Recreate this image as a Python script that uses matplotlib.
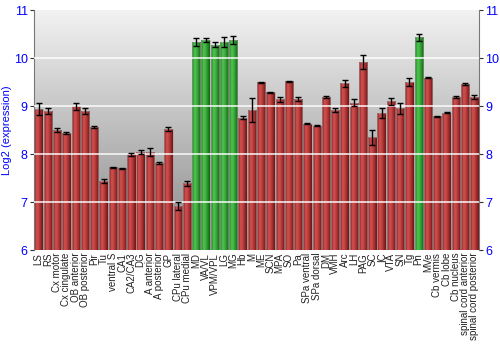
import numpy as np
import matplotlib.pyplot as plt
from matplotlib.colors import LinearSegmentedColormap

plt.rcParams['font.family'] = ['Liberation Sans', 'DejaVu Sans']

regions = ['LS', 'RS', 'Cx motor', 'Cx cingulate', 'OB anterior', 'OB posterior', 'Pir', 'Tu',
           'ventral S', 'CA1', 'CA2/CA3', 'DG', 'A anterior', 'A posterior', 'GP', 'CPu lateral',
           'CPu medial', 'MD', 'VA/VL', 'VPM/VPL', 'LG', 'MG', 'Hb', 'M', 'ME', 'SCN', 'MPA', 'SO',
           'Pa', 'SPa ventral', 'SPa dorsal', 'DM', 'VMH', 'Arc', 'LH', 'PAG', 'SC', 'IC', 'VTA',
           'SN', 'Tg', 'Pn', 'MVe', 'Cb vermis', 'Cb lobe', 'Cb nucleus', 'spinal cord anterior',
           'spinal cord posterior']
expression = [8.94, 8.89, 8.50, 8.43, 8.99, 8.90, 8.57, 7.43, 7.72, 7.70, 7.99, 8.04, 8.04, 7.81,
              8.52, 6.92, 7.39, 10.33, 10.38, 10.28, 10.33, 10.37, 8.76, 8.91, 9.49, 9.29, 9.14,
              9.52, 9.14, 8.63, 8.59, 9.18, 8.92, 9.47, 9.07, 9.92, 8.35, 8.86, 9.10, 8.95, 9.50,
              10.43, 9.59, 8.79, 8.86, 9.19, 9.46, 9.19]
error = [0.12, 0.06, 0.05, 0.02, 0.08, 0.06, 0.02, 0.04, 0.01, 0.01, 0.04, 0.04, 0.09, 0.02,
         0.05, 0.08, 0.05, 0.09, 0.04, 0.06, 0.10, 0.08, 0.03, 0.25, 0.01, 0.01, 0.05, 0.01,
         0.04, 0.01, 0.01, 0.02, 0.04, 0.08, 0.07, 0.15, 0.16, 0.10, 0.07, 0.12, 0.08, 0.08,
         0.01, 0.01, 0.01, 0.02, 0.02, 0.04]
highlighted = ['MD', 'VA/VL', 'VPM/VPL', 'LG', 'MG', 'Pn']

red_map = LinearSegmentedColormap.from_list(
    'red', [(0, '#7e1c1c'), (0.3, '#d25252'), (0.55, '#bf4040'), (1, '#701414')])
green_map = LinearSegmentedColormap.from_list(
    'green', [(0, '#1e7a1e'), (0.3, '#50c450'), (0.55, '#3cae3c'), (1, '#126412')])
bg_map = LinearSegmentedColormap.from_list('bg', ['#8a8a8a', '#bdbdbd', '#f2f2f2'])

fig = plt.figure(figsize=(5, 3.5), dpi=100)
ax = fig.add_axes([0.068, 0.2857, 0.89, 0.6857])

x = np.arange(len(regions))
ax.set_xlim(-0.5, len(regions) - 0.5)
ax.set_ylim(6, 11)

# background gradient
ax.imshow(np.linspace(0, 1, 256).reshape(-1, 1), cmap=bg_map, origin='lower',
          extent=(-0.5, len(regions) - 0.5, 6, 11), aspect='auto', zorder=0)

bars = ax.bar(x, np.array(expression) - 6, bottom=6, width=0.9, color='none',
              edgecolor='#a0a0a0', linewidth=0.4, zorder=2)
grad = np.linspace(0, 1, 64).reshape(1, -1)
for b, name in zip(bars, regions):
    cmap = green_map if name in highlighted else red_map
    x0 = b.get_x()
    im = ax.imshow(grad, cmap=cmap, extent=(x0, x0 + b.get_width(), 6, b.get_y() + b.get_height()),
                   aspect='auto', zorder=1.5)
    im.set_clip_path(b)

for yv in [7, 8, 9, 10]:
    ax.axhline(yv, color='white', lw=1.4, alpha=0.75, zorder=3)

ax.errorbar(x, expression, yerr=error, fmt='none', ecolor='black', elinewidth=1,
            capsize=2, capthick=1, zorder=4)

ax.set_xticks(x)
ax.set_xticklabels(regions, rotation=90, fontsize=7, color='#222222')
ax.tick_params(axis='x', length=0, pad=2)
ax.set_yticks([6, 7, 8, 9, 10, 11])
ax.tick_params(axis='y', labelsize=9, labelcolor='blue', length=3, color='#333333',
               right=True, labelright=True, pad=1.5)
ax.set_ylabel('Log2 (expression)', color='blue', fontsize=8, labelpad=1)

for side in ['top', 'bottom']:
    ax.spines[side].set_visible(False)
for side in ['left', 'right']:
    ax.spines[side].set_color('#777777')

fig.savefig('out.png', dpi=100)
